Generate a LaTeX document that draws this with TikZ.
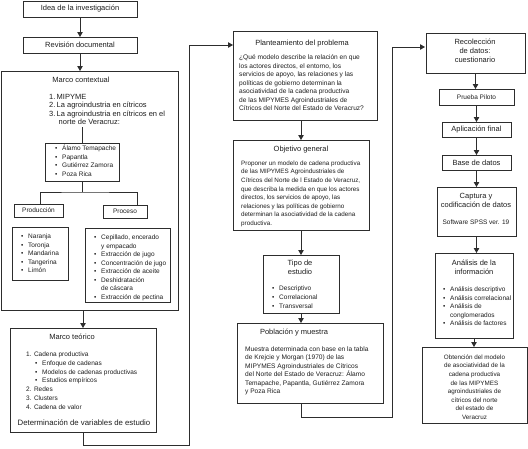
\documentclass[tikz,border=0pt]{standalone}
\usepackage{fontspec}
\setmainfont{Liberation Sans}
\usetikzlibrary{arrows.meta,calc}
\definecolor{lc}{RGB}{45,45,45}
\definecolor{tc}{RGB}{30,30,30}
\newcommand{\fb}{\fontsize{6.3}{8.55}\selectfont}
\newcommand{\fm}{\fontsize{6.6}{8.5}\selectfont}
\newcommand{\ft}{\fontsize{7.5}{9}\selectfont}
\newcommand{\fl}{\fontsize{7.5}{8.4}\selectfont}
\newcommand{\fs}{\fontsize{6.5}{8}\selectfont}
\newcommand{\bu}{\makebox[7pt][l]{\textbullet}}
\newcommand{\nm}[1]{\makebox[7.5pt][l]{#1}}
\begin{document}
\begin{tikzpicture}[x=1pt,y=-1pt,
  box/.style={draw=lc,line width=0.8pt,inner sep=0pt,outer sep=0pt,anchor=north west,text=tc},
  txt/.style={inner sep=0pt,anchor=north west,align=left,font=\fb,text=tc},
  ttl/.style={inner sep=0pt,anchor=north,align=center,font=\ft,text=tc},
  ln/.style={draw=lc,line width=0.8pt},
  arr/.style={draw=lc,line width=0.8pt,-{Triangle[length=5pt,width=5.5pt]}}]
\fill[white] (0,0) rectangle (528,448);
\useasboundingbox (0,0) rectangle (528,448);

% ---------- left column ----------
\node[box,minimum width=114pt,minimum height=16pt,font=\ft] (idea) at (23,1) {Idea de la investigación};
\node[box,minimum width=114pt,minimum height=16pt,font=\ft] (rev) at (23,37) {Revisión documental};
\node[box,minimum width=177pt,minimum height=239pt] (mctx) at (1,71) {};
\node[ttl] (mctxt) at (81,77.2) {Marco contextual};
\node[txt,font=\fl] (numl) at (49,94.2) {\nm{1.}MIPYME\\\nm{2.}La agroindustria en cítricos\\\nm{3.}La agroindustria en cítricos en el\\\hspace*{9.5pt}norte de Veracruz:};
\node[box,minimum width=74pt,minimum height=38pt] (muni) at (45,143) {};
\node[txt,font=\fontsize{6.5}{8.6}\selectfont] (munit) at (55,144.6) {\bu Álamo Temapache\\\bu Papantla\\\bu Gutiérrez Zamora\\\bu Poza Rica};
\node[box,minimum width=49pt,minimum height=13pt,font=\fs] (prod) at (14,204) {Producción};
\node[box,minimum width=44pt,minimum height=13pt,font=\fs] (proc) at (103,205) {Proceso};
\node[box,minimum width=56pt,minimum height=53pt] (prodl) at (12,227) {};
\node[txt,font=\fontsize{6.5}{8.6}\selectfont] (prodlt) at (21,233.6) {\bu Naranja\\\bu Toronja\\\bu Mandarina\\\bu Tangerina\\\bu Limón};
\node[box,minimum width=85pt,minimum height=74pt] (procl) at (85,228) {};
\node[txt,font=\fontsize{6.5}{8.5}\selectfont] (proclt) at (94,234.6) {\bu Cepillado, encerado\\\hspace*{7pt}y empacado\\\bu Extracción de jugo\\\bu Concentración de jugo\\\bu Extracción de aceite\\\bu Deshidratación\\\hspace*{7pt}de cáscara\\\bu Extracción de pectina};
\node[box,minimum width=146pt,minimum height=104pt] (mteo) at (10,328) {};
\node[ttl] (mteot) at (72,334.2) {Marco teórico};
\node[txt,font=\fontsize{6.5}{8.8}\selectfont] (mteol) at (26,351.6) {1. Cadena productiva\\\hspace*{9pt}\bu Enfoque de cadenas\\\hspace*{9pt}\bu Modelos de cadenas productivas\\\hspace*{9pt}\bu Estudios empíricos\\2. Redes\\3. Clusters\\4. Cadena de valor};
\node[ttl,font=\fontsize{7.8}{9}\selectfont] (mteod) at (84,420) {Determinación de variables de estudio};

\draw[arr] (idea) -- (rev);
\draw[arr] (rev.south) -- (rev.south |- mctx.north);
\draw[ln] (muni.north) -- ++(0,-16);
\draw[ln] (muni.south) -- ++(0,11) coordinate (t0);
\draw[ln] ([xshift=1.5pt]prod.north) |- (t0) -| ([xshift=12pt]proc.north);
\draw[arr] (mctx.south -| mteo.north) -- (mteo.north);
\coordinate (c1) at (189,45);
\draw[arr] (mteo.south) -- ++(0,13) -| (c1) -- (c1 -| 233,0);

% ---------- middle column ----------
\node[box,minimum width=144pt,minimum height=89pt] (plan) at (233,31) {};
\node[ttl] (plant) at (302,40.2) {Planteamiento del problema};
\node[txt,font=\fm] (planx) at (239,54.5) {¿Qué modelo describe la relación en que\\los actores directos, el entorno, los\\servicios de apoyo, las relaciones y las\\políticas de gobierno determinan la\\asociatividad de la cadena productiva\\de las MIPYMES Agroindustriales de\\Cítricos del Norte del Estado de Veracruz?};
\node[box,minimum width=136pt,minimum height=90pt] (obj) at (233,140) {};
\node[ttl] (objt) at (301,146.2) {Objetivo general};
\node[txt] (objx) at (241,160.6) {Proponer un modelo de cadena productiva\\de las MIPYMES Agroindustriales de\\Cítricos del Norte de l Estado de Veracruz,\\que describa la medida en que los actores\\directos, los servicios de apoyo, las\\relaciones y las políticas de gobierno\\determinan la asociatividad de la cadena\\productiva.};
\node[box,minimum width=76pt,minimum height=58pt] (tipo) at (263,255) {};
\node[ttl] (tipot) at (300,260.2) {Tipo de\\estudio};
\node[txt,font=\fontsize{6.5}{9}\selectfont] (tipol) at (272,285.6) {\bu Descriptivo\\\bu Correlacional\\\bu Transversal};
\node[box,minimum width=146pt,minimum height=80pt] (pob) at (237,323) {};
\node[ttl] (pobt) at (294,329.2) {Población y muestra};
\node[txt,font=\fm] (pobx) at (245,346.5) {Muestra determinada con base en la tabla\\de Krejcie y Morgan (1970) de las\\MIPYMES Agroindustriales de Cítricos\\del Norte del Estado de Veracruz: Álamo\\Temapache, Papantla, Gutiérrez Zamora\\y Poza Rica};

\draw[arr] (plan.south -| obj.north) -- (obj.north);
\draw[arr] (obj.south) -- (obj.south |- tipo.north);
\draw[arr] (tipo.south) -- (tipo.south |- pob.north);
\coordinate (c2) at (392,47);
\draw[arr] (pob.south -| tipo.south) -- ++(0,14) -| (c2) -- (c2 -| 425,0);

% ---------- right column ----------
\node[box,minimum width=99pt,minimum height=40pt] (rec) at (426,33) {};
\node[ttl] (rect) at (475,39.2) {Recolección\\de datos:\\cuestionario};
\node[box,minimum width=75pt,minimum height=16pt,font=\fs] (prueba) at (439,89) {Prueba Piloto};
\node[box,minimum width=69pt,minimum height=15pt,font=\ft] (apl) at (442,122) {Aplicación final};
\node[box,minimum width=69pt,minimum height=15pt,font=\ft] (base) at (442,155) {Base de datos};
\node[box,minimum width=79pt,minimum height=49pt] (cap) at (437,187) {};
\node[ttl] (capt) at (476,193.2) {Captura y\\codificación de datos};
\node[ttl,font=\fs] (caps) at (476,219.6) {Software SPSS ver. 19};
\node[box,minimum width=78pt,minimum height=85pt] (anal) at (435,253) {};
\node[ttl] (analt) at (474,260.2) {Análisis de la\\información};
\node[txt,font=\fontsize{6.5}{8.5}\selectfont] (anall) at (443,286.6) {\bu Análisis descriptivo\\\bu Análisis correlacional\\\bu Análisis de\\\hspace*{7pt}conglomerados\\\bu Análisis de factores};
\node[box,minimum width=105pt,minimum height=76pt] (fin) at (422,347) {};
\node[ttl,font=\fb] (fint) at (474.5,354.6) {Obtención del modelo\\de asociatividad de la\\cadena productiva\\de las MIPYMES\\agroindustriales de\\cítricos del norte\\del estado de\\Veracruz};

\draw[arr] (rec.south) -- (rec.south |- prueba.north);
\draw[arr] (prueba.south) -- (prueba.south |- apl.north);
\draw[arr] (apl.south) -- (apl.south |- base.north);
\draw[arr] (base.south) -- (base.south |- cap.north);
\draw[arr] (cap.south) -- (cap.south |- anal.north);
\draw[arr] (anal.south) -- (anal.south |- fin.north);
\end{tikzpicture}
\end{document}
